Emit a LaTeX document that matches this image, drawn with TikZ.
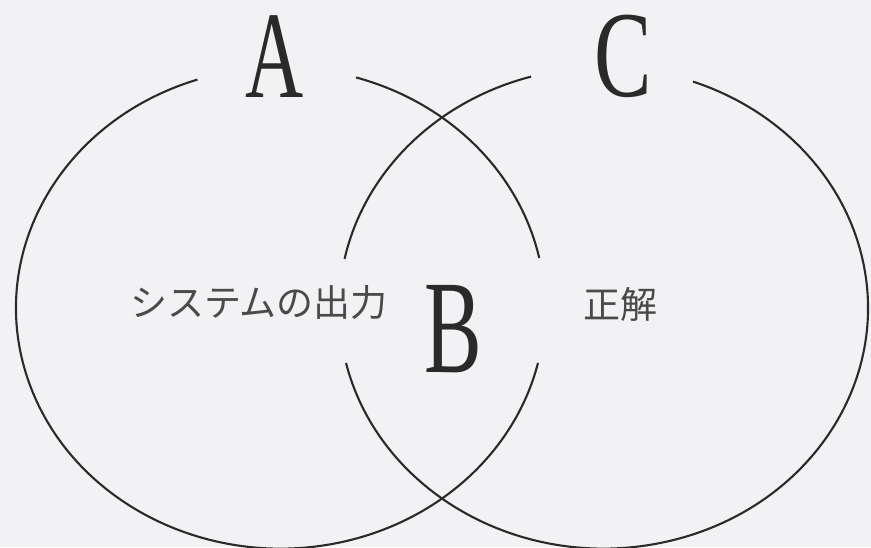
\documentclass[tikz,border=0pt]{standalone}
\usepackage{fontspec}
\usepackage{graphicx}
\setmainfont{Liberation Serif}
\newfontfamily\jpfont{Noto Sans CJK JP}
\definecolor{bgcol}{HTML}{F2F2F4}
\definecolor{linecol}{HTML}{2A2A2A}
\definecolor{jpcol}{HTML}{4A4A4A}
\tikzset{
  venn/.style={draw=linecol, line width=2.1pt},
  jplabel/.style={inner sep=0pt, text=jpcol, font=\jpfont\fontsize{37}{37}\selectfont},
  setletter/.style={inner sep=0pt, text=linecol},
}
\begin{document}
\begin{tikzpicture}[x=1pt,y=1pt]
\useasboundingbox[fill=bgcol] (0,0) rectangle (871,547);
% centres of the two ellipses
\coordinate (L) at (280.5,239);
\coordinate (R) at (603.5,239);
% left ellipse (two arcs, with gaps for A and B)
\draw[venn] ([shift={(12:264.5 and 240.6)}]L) arc[start angle=12, end angle=73.4, x radius=264.5, y radius=240.6];
\draw[venn] ([shift={(108.3:264.5 and 240.6)}]L) arc[start angle=108.3, end angle=346.8, x radius=264.5, y radius=240.6];
% right ellipse (two arcs, with gaps for C and B)
\draw[venn] ([shift={(105.9:264.5 and 240.6)}]R) arc[start angle=105.9, end angle=168.2, x radius=264.5, y radius=240.6];
\draw[venn] ([shift={(193.2:264.5 and 240.6)}]R) arc[start angle=193.2, end angle=430.2, x radius=264.5, y radius=240.6];
% letters
\node[setletter] (A) at (275,490) {\scalebox{0.65}[1]{\fontsize{124}{124}\selectfont A}};
\node[setletter] (C) at (623.5,490.5) {\scalebox{0.7}[1]{\fontsize{123}{123}\selectfont C}};
\node[setletter] (B) at (453.5,218) {\scalebox{0.65}[1]{\fontsize{133}{133}\selectfont B}};
% Japanese labels
\node[jplabel] (sys) at (259,244) {システムの出力};
\node[jplabel] (ans) at (620,243) {正解};
\end{tikzpicture}
\end{document}
